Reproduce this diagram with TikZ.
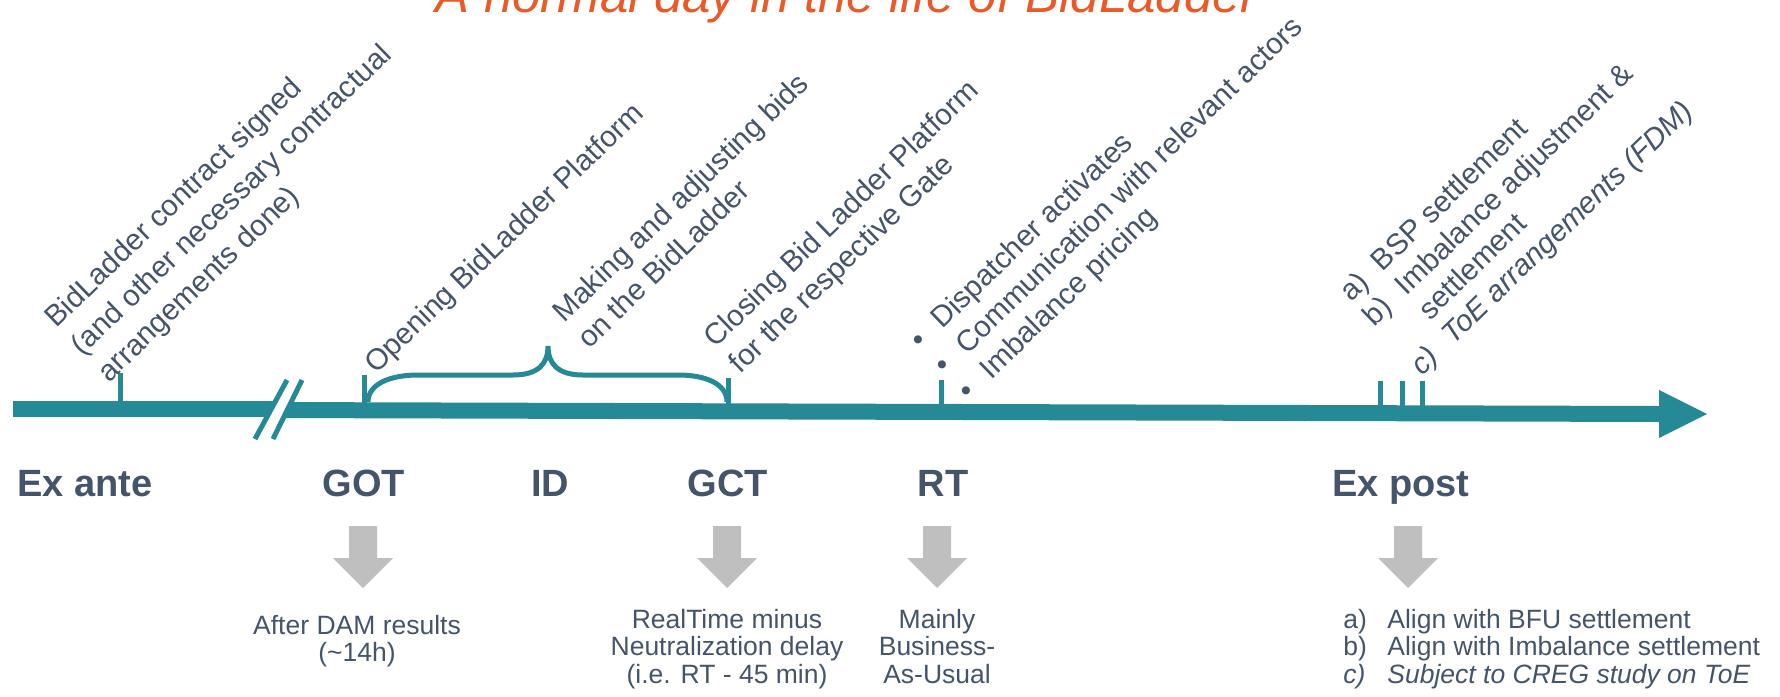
\documentclass[tikz,border=0pt]{standalone}
\usepackage{fontspec}
\setmainfont{Liberation Sans}
\definecolor{teal1}{RGB}{38,138,150}
\definecolor{txt}{HTML}{44546A}
\definecolor{orng}{RGB}{233,90,40}
\definecolor{gry}{HTML}{BFBFBF}
\begin{document}
\begin{tikzpicture}[x=0.5pt,y=-0.5pt,
  rotlab/.style={rotate=44, anchor=base west, inner sep=0pt, text=txt, font=\fontsize{14.8}{18}\selectfont},
  bigl/.style={anchor=base, inner sep=0pt, text=txt, font=\fontsize{19}{22}\selectfont\bfseries},
  note/.style={anchor=base, inner sep=0pt, text=txt, font=\fontsize{13.25}{13.75}\selectfont},
  tickln/.style={draw=teal1, line width=2.5pt},
  bar/.style={draw=teal1, line width=8pt},
  downarr/.pic={\fill[gry] (-14,0) -- (14,0) -- (14,32) -- (30,32) -- (0,62) -- (-30,32) -- (-14,32) -- cycle;}
]
\useasboundingbox (0,0) rectangle (1780,696);

% title
\node[anchor=base, inner sep=0pt, text=orng, font=\fontsize{25.5}{30}\selectfont\itshape] (title) at (847,12) {A normal day in the life of BidLadder};

% axis
\coordinate (axL) at (13,409);
\coordinate (axLe) at (290,409);
\coordinate (axRs) at (270,410);
\coordinate (axRe) at (1660,414);
\draw[bar] (axL) -- (axLe);
\draw[bar] (axRs) -- (axRe);
\fill[teal1] (1659,390) -- (1707,414) -- (1659,438) -- cycle;
% break
\fill[white] (287,380) -- (302,380) -- (273,439) -- (255,439) -- cycle;
\coordinate (s1a) at (287,380); \coordinate (s1b) at (255,439);
\coordinate (s2a) at (302,380); \coordinate (s2b) at (273,439);
\draw[tickln] (s1a) -- (s1b);
\draw[tickln] (s2a) -- (s2b);

% ticks
\coordinate (tEA) at (120,373);
\coordinate (tGOT) at (364,375);
\coordinate (tGCT) at (728,378);
\coordinate (tRT) at (941,380);
\coordinate (tA) at (1380,381);
\coordinate (tB) at (1402,381);
\coordinate (tC) at (1422,381);
\foreach \t in {tEA,tGOT,tGCT,tRT,tA,tB,tC}{
  \draw[tickln] (\t) -- ++(0,32);
}

% brace
\draw[teal1, line width=2.5pt] (368,402) .. controls (368,384) and (390,375) .. (418,375) -- (513,375)
  .. controls (538,375) and (548,364) .. (548,346)
  .. controls (548,364) and (558,375) .. (583,375) -- (678,375)
  .. controls (706,375) and (727,384) .. (727,402);

% rotated labels
\node[rotlab, font=\fontsize{14.8}{19}\selectfont] (contract) at (56,329) {\begin{tabular}[t]{@{}l@{}}BidLadder contract signed\\(and other necessary contractual\\arrangements done)\end{tabular}};
\node[rotlab] (opening) at (376,375) {Opening BidLadder Platform};
\node[rotlab] (making) at (564,324) {\begin{tabular}[t]{@{}l@{}}Making and adjusting bids\\on the BidLadder\end{tabular}};
\node[rotlab] (closing) at (715,349) {\begin{tabular}[t]{@{}l@{}}Closing Bid Ladder Platform\\for the respective Gate\end{tabular}};
\node[rotlab, font=\fontsize{14.8}{17.5}\selectfont] (rtlist) at (921,351) {\begin{tabular}[t]{@{}l@{}l@{}}
\makebox[15pt][l]{\textbullet} & Dispatcher activates\\
\makebox[15pt][l]{\textbullet} & Communication with relevant actors\\
\makebox[15pt][l]{\textbullet} & Imbalance pricing
\end{tabular}};
\node[rotlab, font=\fontsize{14.8}{17}\selectfont] (eplist) at (1351,303) {\begin{tabular}[t]{@{}l@{}l@{}}
\makebox[22pt][l]{a)} & BSP settlement\\
\makebox[22pt][l]{b)} & Imbalance adjustment \&\\
 & settlement\\
\makebox[22pt][l]{\itshape c)} & \itshape ToE arrangements (FDM)
\end{tabular}};

% phase labels
\node[bigl] (exante) at (85,496) {Ex ante};
\node[bigl] (got) at (364,496) {GOT};
\node[bigl] (id) at (550,496) {ID};
\node[bigl] (gct) at (728,496) {GCT};
\node[bigl] (rt) at (943,496) {RT};
\node[bigl] (expost) at (1401,496) {Ex post};

% grey arrows
\pic (aGOT) at (363,526) {downarr};
\pic (aGCT) at (727,526) {downarr};
\pic (aRT) at (937,526) {downarr};
\pic (aEP) at (1408,526) {downarr};

% notes
\node[note] (after) at (357,634) {\begin{tabular}[t]{@{}c@{}}After DAM results\\(\textasciitilde 14h)\end{tabular}};
\node[note] (rtm) at (727,628) {\begin{tabular}[t]{@{}c@{}}RealTime minus\\Neutralization delay\\(i.e. RT - 45 min)\end{tabular}};
\node[note] (bau) at (937,628) {\begin{tabular}[t]{@{}c@{}}Mainly\\Business-\\As-Usual\end{tabular}};
\node[note, anchor=base west] (eplow) at (1343,628) {\begin{tabular}[t]{@{}l@{}l@{}}
\makebox[22pt][l]{a)} & Align with BFU settlement\\
\makebox[22pt][l]{b)} & Align with Imbalance settlement\\
\makebox[22pt][l]{\itshape c)} & \itshape Subject to CREG study on ToE
\end{tabular}};
\end{tikzpicture}
\end{document}
